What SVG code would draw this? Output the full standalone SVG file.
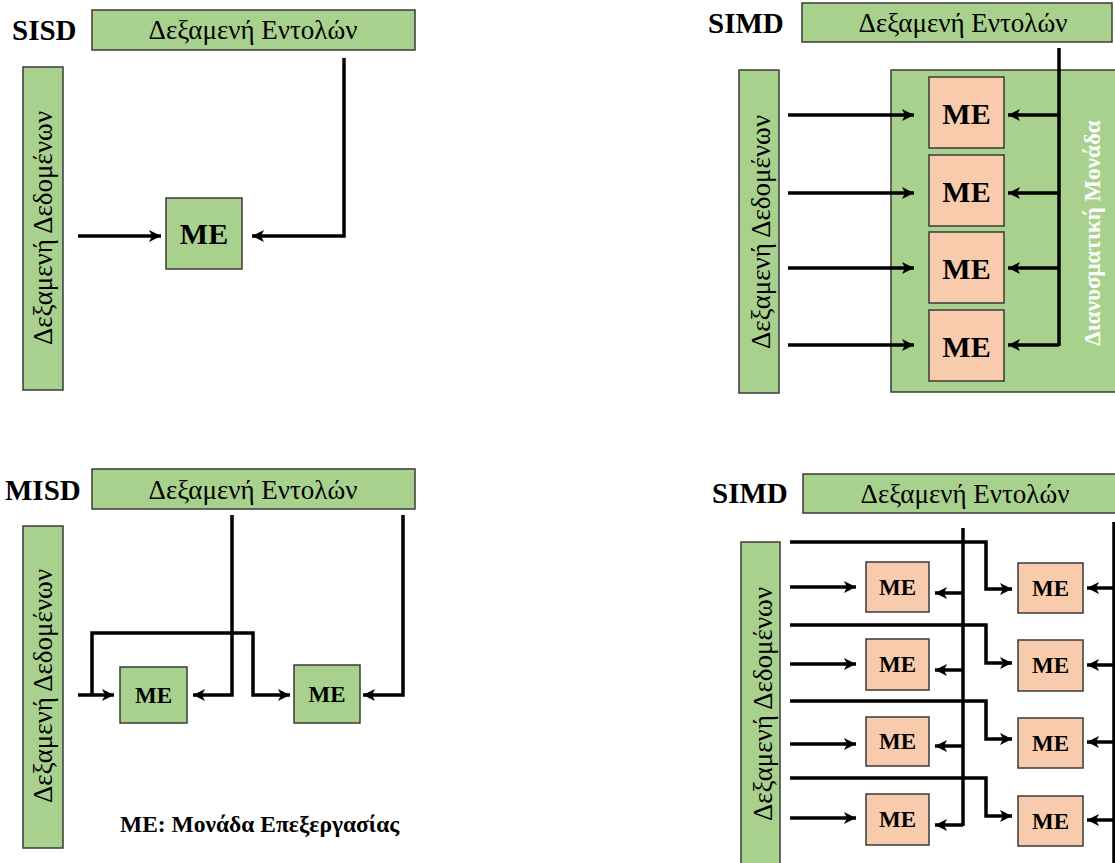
<svg xmlns="http://www.w3.org/2000/svg" width="1115" height="863" viewBox="0 0 1115 863">
<defs>
<marker id="ah" markerUnits="userSpaceOnUse" markerWidth="14" markerHeight="14" refX="12" refY="6" orient="auto">
<path d="M0,0 L12,6 L0,12 L3,6 Z" fill="#000"/>
</marker>
<style>
text{font-family:'Liberation Serif',Tinos,'DejaVu Serif',serif}
.g{fill:#a9d18e;stroke:#3a3a3a;stroke-width:1.5}
.o{fill:#f8cbad;stroke:#3a3a3a;stroke-width:1.5}
.t{fill:#000}
.lab{font-weight:bold;font-size:29px;fill:#000}
.me{font-weight:bold;fill:#000;text-anchor:middle}
.pool{font-size:27px;fill:#000;text-anchor:middle}
.c{fill:none;stroke:#000;stroke-width:3.5}
.ca{fill:none;stroke:#000;stroke-width:3.5;marker-end:url(#ah)}
</style>
</defs>
<rect width="1115" height="863" fill="#fff"/>

<!-- SISD -->
<g id="sisd-label"><text class="lab" x="12" y="40">SISD</text></g>
<g id="sisd-instr"><rect class="g" x="92" y="10" width="323" height="40"/><text class="pool" x="253" y="39">Δεξαμενή Εντολών</text></g>
<g id="sisd-data"><rect class="g" x="23" y="67" width="40" height="323"/><text class="pool" transform="translate(52,228) rotate(-90)">Δεξαμενή Δεδομένων</text></g>
<g id="sisd-me"><rect class="g" x="166" y="198" width="76" height="71"/><text class="me" font-size="30" x="204" y="244">ME</text></g>

<!-- SIMD top right -->
<g id="simd1-label"><text class="lab" x="708" y="33">SIMD</text></g>
<g id="simd1-instr"><rect class="g" x="802" y="3" width="310" height="39"/><text class="pool" x="963" y="32">Δεξαμενή Εντολών</text></g>
<g id="simd1-data"><rect class="g" x="739" y="70" width="40" height="323"/><text class="pool" transform="translate(770,232) rotate(-90)">Δεξαμενή Δεδομένων</text></g>
<g id="simd1-vector"><rect class="g" x="891" y="70" width="230" height="322"/><text font-weight="bold" font-size="23" fill="#fff" text-anchor="middle" transform="translate(1100,233) rotate(-90)">Διανυσματική Μονάδα</text></g>
<g id="simd1-me1"><rect class="o" x="929" y="77" width="75" height="71"/><text class="me" font-size="30" x="966.5" y="124">ME</text></g>
<g id="simd1-me2"><rect class="o" x="929" y="155" width="75" height="71"/><text class="me" font-size="30" x="966.5" y="202">ME</text></g>
<g id="simd1-me3"><rect class="o" x="929" y="232" width="75" height="71"/><text class="me" font-size="30" x="966.5" y="279">ME</text></g>
<g id="simd1-me4"><rect class="o" x="929" y="310" width="75" height="71"/><text class="me" font-size="30" x="966.5" y="357">ME</text></g>

<!-- MISD -->
<g id="misd-label"><text class="lab" x="5" y="500">MISD</text></g>
<g id="misd-instr"><rect class="g" x="92" y="469" width="323" height="40"/><text class="pool" x="253" y="499">Δεξαμενή Εντολών</text></g>
<g id="misd-data"><rect class="g" x="23" y="526" width="40" height="322"/><text class="pool" transform="translate(52,686) rotate(-90)">Δεξαμενή Δεδομένων</text></g>
<g id="misd-me1"><rect class="g" x="120" y="667" width="67" height="56"/><text class="me" font-size="23" x="153.5" y="703">ME</text></g>
<g id="misd-me2"><rect class="g" x="294" y="665" width="66" height="58"/><text class="me" font-size="23" x="327" y="702">ME</text></g>
<g id="legend"><text class="t" font-weight="bold" font-size="23.5" x="120" y="832">ME: Μονάδα Επεξεργασίας</text></g>

<!-- SIMD bottom right -->
<g id="simd2-label"><text class="lab" x="712" y="503">SIMD</text></g>
<g id="simd2-instr"><rect class="g" x="803" y="474" width="320" height="39"/><text class="pool" x="965" y="503">Δεξαμενή Εντολών</text></g>
<g id="simd2-data"><rect class="g" x="741" y="542" width="39" height="330"/><text class="pool" transform="translate(772,704) rotate(-90)">Δεξαμενή Δεδομένων</text></g>
<g id="simd2-meL1"><rect class="o" x="866" y="562" width="63" height="50"/><text class="me" font-size="23" x="897.5" y="595">ME</text></g>
<g id="simd2-meL2"><rect class="o" x="866" y="639" width="63" height="51"/><text class="me" font-size="23" x="897.5" y="672">ME</text></g>
<g id="simd2-meL3"><rect class="o" x="866" y="717" width="63" height="49"/><text class="me" font-size="23" x="897.5" y="749">ME</text></g>
<g id="simd2-meL4"><rect class="o" x="866" y="794" width="63" height="51"/><text class="me" font-size="23" x="897.5" y="827">ME</text></g>
<g id="simd2-meR1"><rect class="o" x="1018" y="563" width="65" height="50"/><text class="me" font-size="23" x="1050.5" y="596">ME</text></g>
<g id="simd2-meR2"><rect class="o" x="1018" y="640" width="65" height="51"/><text class="me" font-size="23" x="1050.5" y="673">ME</text></g>
<g id="simd2-meR3"><rect class="o" x="1018" y="718" width="65" height="50"/><text class="me" font-size="23" x="1050.5" y="751">ME</text></g>
<g id="simd2-meR4"><rect class="o" x="1018" y="796" width="65" height="50"/><text class="me" font-size="23" x="1050.5" y="829">ME</text></g>

<g id="connectors">
<!-- SISD -->
<path class="ca" d="M78,236 H161"/>
<path class="ca" d="M344,58 V236 H252"/>
<!-- SIMD top -->
<path class="ca" d="M788,115 H914"/>
<path class="ca" d="M788,193 H914"/>
<path class="ca" d="M788,268 H914"/>
<path class="ca" d="M788,345 H914"/>
<path class="c" d="M1059,48 V346"/>
<path class="ca" d="M1059,115 H1008"/>
<path class="ca" d="M1059,193 H1008"/>
<path class="ca" d="M1059,268 H1008"/>
<path class="ca" d="M1059,345 H1008"/>
<!-- MISD -->
<path class="ca" d="M78,695 H114"/>
<path class="ca" d="M92,695 V633 H253 V695 H290"/>
<path class="ca" d="M232,515 V695 H193"/>
<path class="ca" d="M403,515 V695 H363"/>
<!-- SIMD bottom -->
<path class="ca" d="M790,587 H856"/>
<path class="ca" d="M790,664 H856"/>
<path class="ca" d="M790,744 H856"/>
<path class="ca" d="M790,818 H856"/>
<path class="ca" d="M790,542 H986 V589 H1012"/>
<path class="ca" d="M790,625 H986 V663 H1012"/>
<path class="ca" d="M790,701 H986 V739 H1012"/>
<path class="ca" d="M790,778 H986 V816 H1012"/>
<path class="c" d="M963,528 V826"/>
<path class="ca" d="M963,593 H935"/>
<path class="ca" d="M963,670 H935"/>
<path class="ca" d="M963,746 H935"/>
<path class="ca" d="M963,825 H935"/>
<path class="c" d="M1114,522 V863"/>
<path class="ca" d="M1116,588 H1087"/>
<path class="ca" d="M1116,665 H1087"/>
<path class="ca" d="M1116,742 H1087"/>
<path class="ca" d="M1116,820 H1087"/>
</g>
</svg>
